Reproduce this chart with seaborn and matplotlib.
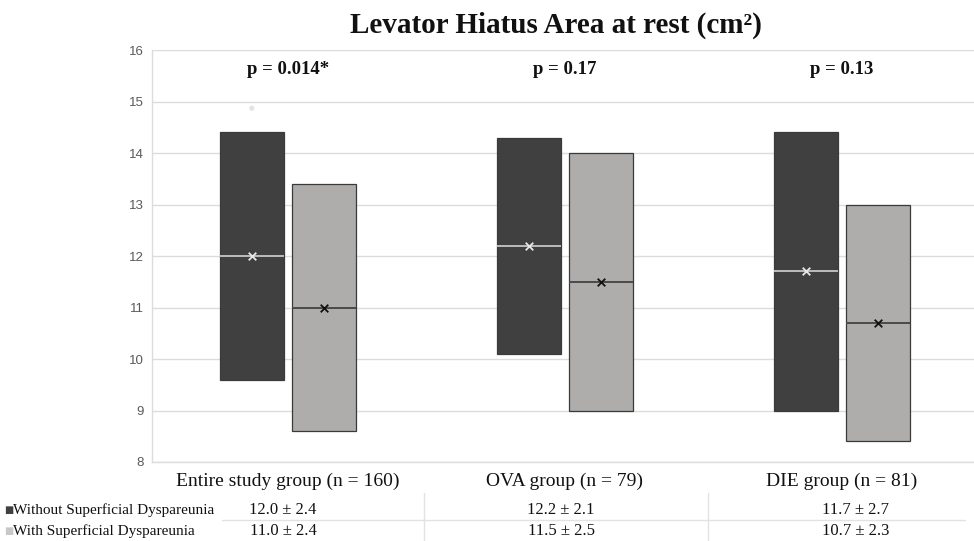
import numpy as np
import pandas as pd
import matplotlib
matplotlib.use("Agg")
import matplotlib.pyplot as plt
import matplotlib.transforms as mtransforms
import seaborn as sns

# ---------------- data ----------------
groups = ["Entire study group (n = 160)", "OVA group (n = 79)", "DIE group (n = 81)"]
series = ["Without Superficial Dyspareunia", "With Superficial Dyspareunia"]
low_without = [9.6, 10.1, 9.0]
high_without = [14.4, 14.3, 14.4]
mean_without = [12.0, 12.2, 11.7]
low_with = [8.6, 9.0, 8.4]
high_with = [13.4, 14.0, 13.0]
mean_with = [11.0, 11.5, 10.7]
table_without = ["12.0 ± 2.4", "12.2 ± 2.1", "11.7 ± 2.7"]
table_with = ["11.0 ± 2.4", "11.5 ± 2.5", "10.7 ± 2.3"]
p_values = ["p = 0.014*", "p = 0.17", "p = 0.13"]
outlier_group = [0]
outlier_value = [14.87]
y_ticks = [8, 9, 10, 11, 12, 13, 14, 15, 16]
title = "Levator Hiatus Area at rest (cm²)"

# ---------------- style ----------------
sns.set_theme(style="white")
plt.rcParams["font.family"] = ["Liberation Serif", "DejaVu Serif"]

dark = "#404040"
light = "#AFACAC"
grid_c = "#DCDCDC"

fig = plt.figure(figsize=(9.74, 5.41), dpi=100)
ax = fig.add_axes([152 / 974, 1 - 462 / 541, 1 - 152 / 974, (462 - 50) / 541])

df = pd.DataFrame({
    "group": np.repeat(np.arange(len(groups)), 2),
    "series": series * len(groups),
    "low": [v for pair in zip(low_without, low_with) for v in pair],
    "high": [v for pair in zip(high_without, high_with) for v in pair],
    "mean": [v for pair in zip(mean_without, mean_with) for v in pair],
})
offsets = {series[0]: -0.13, series[1]: 0.13}
fills = {series[0]: dark, series[1]: light}
median_c = {series[0]: "#BDBDBD", series[1]: "#4A4A4A"}
marker_c = {series[0]: "#E8E8E8", series[1]: "#111111"}
df["x"] = df["group"] + df["series"].map(offsets)
width = 0.232

for s in series:
    d = df[df["series"] == s]
    ax.bar(d["x"], d["high"] - d["low"], bottom=d["low"], width=width,
           color=fills[s], edgecolor="#3A3A3A", linewidth=0.9, zorder=3)
    ax.hlines(d["mean"], d["x"] - width / 2, d["x"] + width / 2,
              color=median_c[s], linewidth=1.4, zorder=4)
    sns.scatterplot(x=d["x"], y=d["mean"], marker="x", s=30, color=marker_c[s],
                    linewidth=1.3, ax=ax, zorder=5, legend=False)

# faint outlier
sns.scatterplot(x=[i + offsets[series[0]] for i in outlier_group], y=outlier_value,
                marker="o", s=14, color="#E4E4E4", edgecolor="none", ax=ax, zorder=2,
                legend=False)

ax.set_xlim(-0.49, 2.477)
ax.set_ylim(8, 16)
ax.set_yticks(y_ticks)
ax.set_yticklabels([str(t) for t in y_ticks], family=["Liberation Sans", "DejaVu Sans"],
                   fontsize=9.5, color="#595959")
ax.tick_params(axis="y", length=0, pad=6)
ax.set_xticks([])
ax.set_xlabel("")
ax.set_ylabel("")
ax.grid(axis="y", color=grid_c, linewidth=1.0, zorder=0)
ax.set_axisbelow(True)
for side in ["top", "right"]:
    ax.spines[side].set_visible(False)
ax.spines["left"].set_color(grid_c)
ax.spines["left"].set_linewidth(1.0)
ax.spines["bottom"].set_color(grid_c)
ax.spines["bottom"].set_linewidth(1.0)

# p-values
for i, p in enumerate(p_values):
    ax.text(i, 15.62, p, ha="center", va="center", fontsize=13.5, fontweight="bold",
            color="#111111")

# title
fig.text(0.571, 1 - 25 / 541, title, ha="center", va="center", fontsize=21,
         fontweight="bold", color="#111111")

# category labels
tr = mtransforms.blended_transform_factory(ax.transData, fig.transFigure)
for i, g in enumerate(groups):
    fig.text(i, 1 - 481 / 541, g, transform=tr, ha="center", va="center",
             fontsize=14, color="#111111")

# table values
col_px = [283, 561, 856]
for i in range(len(groups)):
    fig.text(col_px[i] / 974, 1 - 510 / 541, table_without[i], ha="center",
             va="center", fontsize=12, color="#111111")
    fig.text(col_px[i] / 974, 1 - 531 / 541, table_with[i], ha="center",
             va="center", fontsize=12, color="#111111")

# table grid lines
line_kw = dict(color="#E2E2E2", linewidth=1.0)
for xb in [424, 708]:
    fig.add_artist(plt.Line2D([xb / 974, xb / 974], [1 - 493 / 541, 0], **line_kw))
fig.add_artist(plt.Line2D([222 / 974, 965 / 974], [1 - 520 / 541, 1 - 520 / 541], **line_kw))

# legend rows
for yy, s in [(510, series[0]), (531, series[1])]:
    fig.text(4 / 974, 1 - yy / 541, "\u25A0", ha="left", va="center", fontsize=7,
             color=fills[s] if s == series[0] else "#C8C8C8",
             family=["DejaVu Sans"])
    fig.text(13 / 974, 1 - yy / 541, s, ha="left", va="center", fontsize=11,
             color="#111111")

fig.savefig("out.png", dpi=100)
